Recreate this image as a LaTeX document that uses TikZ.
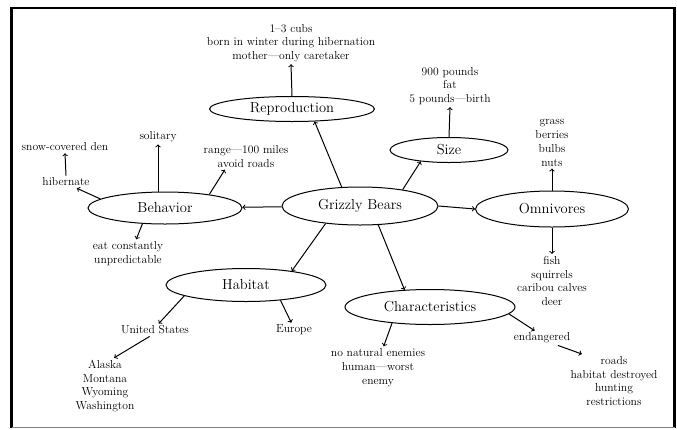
\documentclass[tikz,border=0pt]{standalone}
\usetikzlibrary{shapes.geometric}
\begin{document}
\begin{tikzpicture}[x=1pt,y=-1pt,
  topic/.style={draw, ellipse, inner sep=0pt, line width=1pt, font=\fontsize{14.5}{16}\selectfont},
  leaf/.style={align=center, inner sep=2pt, font=\fontsize{11.6}{13.8}\selectfont},
  link/.style={->, line width=1pt},
  frameline/.style={line width=2.6pt}]
\useasboundingbox (0,0) rectangle (677,429);
% frame
\draw[frameline] (11.5,428) -- (11.5,8) -- (674.5,8) -- (674.5,428);
\draw[line width=1pt, gray] (11.5,427.5) -- (674.5,427.5);
% topics
\node[topic, minimum width=156pt, minimum height=38pt] (gb) at (360,206) {Grizzly Bears};
\node[topic, minimum width=154pt, minimum height=32pt] (beh) at (165,208) {Behavior};
\node[topic, minimum width=165pt, minimum height=25pt] (rep) at (292,109) {Reproduction};
\node[topic, minimum width=118pt, minimum height=25pt] (size) at (449,150) {Size};
\node[topic, minimum width=153pt, minimum height=36pt] (omn) at (552,209) {Omnivores};
\node[topic, minimum width=160pt, minimum height=33pt] (hab) at (246,285) {Habitat};
\node[topic, minimum width=170pt, minimum height=35pt] (chr) at (430,307) {Characteristics};
% leaves
\node[leaf] (reptxt) at (291,43) {1--3 cubs\\born in winter during hibernation\\mother---only caretaker};
\node[leaf] (sizetxt) at (450,86) {900 pounds\\fat\\5 pounds---birth};
\node[leaf] (omntop) at (552,143) {grass\\berries\\bulbs\\nuts};
\node[leaf] (omnbot) at (552,281) {fish\\squirrels\\caribou calves\\deer};
\node[leaf] (sol) at (158,137) {solitary};
\node[leaf] (snow) at (65,147) {snow-covered den};
\node[leaf] (hib) at (66,182) {hibernate};
\node[leaf] (rng) at (246,156.5) {range---100 miles\\avoid roads};
\node[leaf] (eat) at (128,253.5) {eat constantly\\unpredictable};
\node[leaf] (us) at (155,330) {United States};
\node[leaf] (eur) at (294,330) {Europe};
\node[leaf] (al) at (105,386) {Alaska\\Montana\\Wyoming\\Washington};
\node[leaf] (noen) at (378,367.5) {no natural enemies\\human---worst\\enemy};
\node[leaf] (endg) at (542,338) {endangered};
\node[leaf] (rd) at (614,381) {roads\\habitat destroyed\\hunting\\restrictions};
% connectors
\draw[link] (gb) -- (beh);
\draw[link] (gb.134) -- (rep.-29);
\draw[link] (gb.21) -- (size.202);
\draw[link] (gb.east) -- (omn.west);
\draw[link] (gb.-153) -- (hab.17);
\draw[link] (gb.-46) -- (chr.146);
\draw[link] (rep.north) -- (reptxt.south);
\draw[link] (size.north) -- (sizetxt.south);
\draw[link] (omn.north) -- (omntop.south);
\draw[link] (omn.south) -- (omnbot.north);
\draw[link] (sol.south |- beh.north) -- (sol.south);
\draw[link] (hib.north) -- (snow.south);
\draw[link] (beh.172) -- (hib.-30);
\draw[link] (beh.17) -- (rng.-148);
\draw[link] (beh.-145) -- (eat.60);
\draw[link] (hab.-170) -- (us.60);
\draw[link] (hab.-24) -- (eur.110);
\draw[link] (us.-130) -- (al.72);
\draw[link] (chr.-157) -- (noen.75);
\draw[link] (chr.-5) -- (endg.135);
\draw[link] (endg.-25) -- (rd.140);
\end{tikzpicture}
\end{document}
